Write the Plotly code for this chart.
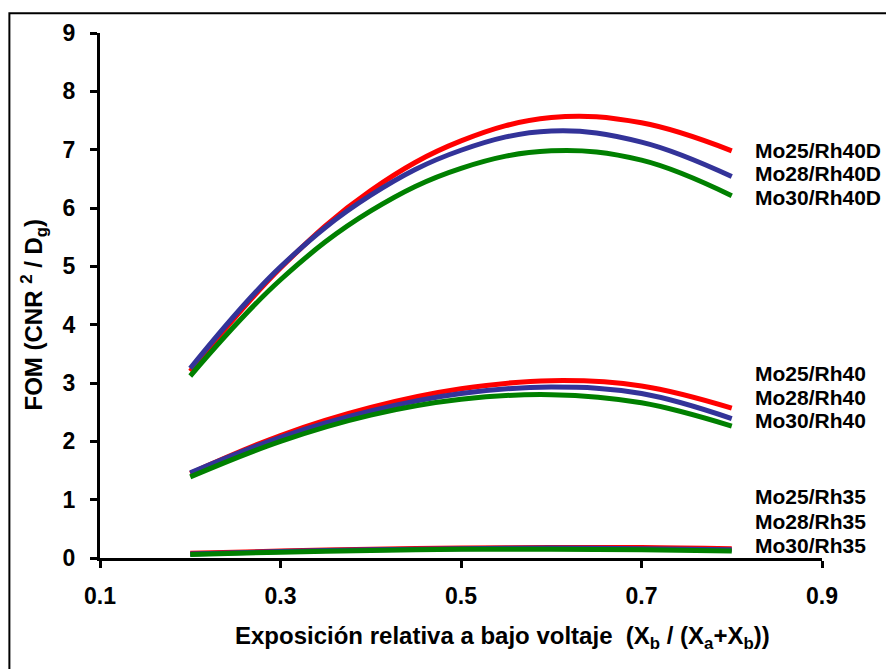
import plotly.graph_objects as go

# Relative low-voltage exposure fraction Xb / (Xa + Xb)
x_vals = [0.2, 0.3, 0.4, 0.5, 0.6, 0.7, 0.8]

# FOM (CNR^2 / Dg) per anode/filter combination
mo25_rh40d = [3.20, 4.97, 6.30, 7.15, 7.55, 7.46, 6.98]
mo28_rh40d = [3.25, 4.99, 6.22, 6.99, 7.32, 7.13, 6.54]
mo30_rh40d = [3.12, 4.77, 5.95, 6.68, 6.98, 6.82, 6.21]

mo25_rh40 = [1.45, 2.10, 2.58, 2.90, 3.04, 2.95, 2.57]
mo28_rh40 = [1.46, 2.07, 2.52, 2.82, 2.93, 2.82, 2.39]
mo30_rh40 = [1.39, 2.00, 2.45, 2.72, 2.80, 2.66, 2.26]

mo25_rh35 = [0.08, 0.12, 0.15, 0.17, 0.18, 0.18, 0.16]
mo28_rh35 = [0.07, 0.11, 0.14, 0.16, 0.17, 0.16, 0.14]
mo30_rh35 = [0.06, 0.10, 0.13, 0.15, 0.15, 0.14, 0.12]

series_names = ["Mo25/Rh40D", "Mo28/Rh40D", "Mo30/Rh40D",
                "Mo25/Rh40", "Mo28/Rh40", "Mo30/Rh40",
                "Mo25/Rh35", "Mo28/Rh35", "Mo30/Rh35"]
series_values = [mo25_rh40d, mo28_rh40d, mo30_rh40d,
                 mo25_rh40, mo28_rh40, mo30_rh40,
                 mo25_rh35, mo28_rh35, mo30_rh35]

# label vertical positions (in FOM units) next to the curve ends
label_y = [6.99, 6.59, 6.18,
           3.17, 2.76, 2.35,
           1.05, 0.63, 0.22]

x_ticks = [0.1, 0.3, 0.5, 0.7, 0.9]
y_ticks = list(range(0, 10))

colors = ["#ff0000", "#333399", "#008000"]
FONT = "Arial, 'Liberation Sans', sans-serif"

fig = go.Figure()
for i, (name, vals) in enumerate(zip(series_names, series_values)):
    fig.add_trace(go.Scatter(
        x=x_vals, y=vals, name=name, mode="lines",
        line=dict(color=colors[i % 3], width=5, shape="spline", smoothing=1.1),
        showlegend=False, hoverinfo="skip"))

for name, ly in zip(series_names, label_y):
    fig.add_annotation(x=0.904, xref="paper", y=ly, yref="y", text="<b>%s</b>" % name,
                       showarrow=False, xanchor="left", yanchor="middle",
                       font=dict(family=FONT, size=21, color="black"))

# axis titles
fig.add_annotation(x=0.557, xref="paper", y=-0.151, yref="paper",
                   text="<b>Exposición relativa a bajo voltaje  (X<sub>b</sub> / (X<sub>a</sub>+X<sub>b</sub>))</b>",
                   showarrow=False, xanchor="center", yanchor="middle",
                   font=dict(family=FONT, size=24, color="black"))
fig.add_annotation(x=-0.092, xref="paper", y=0.463, yref="paper",
                   text="<b>FOM (CNR <sup>2</sup> / D<sub>g</sub>)</b>", textangle=-90,
                   showarrow=False, xanchor="center", yanchor="middle",
                   font=dict(family=FONT, size=24, color="black"))

# outer frame
fig.add_shape(type="rect", xref="paper", yref="paper",
              x0=-0.1255, x1=1.2, y0=-0.4, y1=1.0375,
              line=dict(color="black", width=2), fillcolor="rgba(0,0,0,0)")

axis_common = dict(showline=True, linecolor="black", linewidth=3,
                   ticks="outside", ticklen=7, tickwidth=3, tickcolor="black",
                   showgrid=False, zeroline=False,
                   tickfont=dict(family=FONT, size=23, color="black"))

fig.update_xaxes(range=[0.1, 0.9], tickvals=x_ticks, ticklabelstandoff=8,
                 ticktext=["<b>%s</b>" % t for t in x_ticks], **axis_common)
fig.update_yaxes(range=[0, 9], tickvals=y_ticks, ticklabelstandoff=10,
                 ticktext=["<b>%d</b>" % t for t in y_ticks], **axis_common)

fig.update_layout(width=886, height=669, autosize=False,
                  margin=dict(l=100, r=64, t=33, b=111),
                  paper_bgcolor="white", plot_bgcolor="white")

fig.write_html("out.html")
